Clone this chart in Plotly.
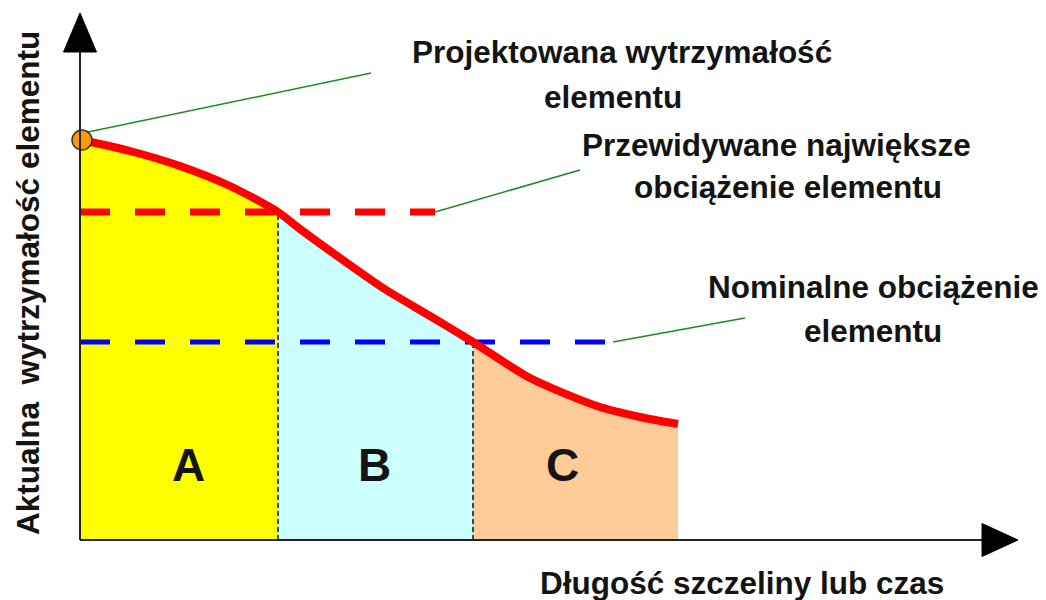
import plotly.graph_objects as go

# Element strength decreasing with crack length / time
t = [2, 50, 100, 150, 198, 220, 260, 303, 350, 393, 450, 517, 560, 598]
strength = [400, 389, 374, 354, 328, 311, 282, 252, 224, 198, 162, 134, 123, 116]

design_strength = 400
max_load = 328
nominal_load = 198
zone_edges = [198, 393]  # where the curve crosses the two load levels
zone_labels = ["A", "B", "C"]
zone_colors = ["#FFFF00", "#CCFFFF", "#FFCC99"]

x_axis_end = 938
y_axis_end = 527

FONT = "Liberation Sans, Arial, sans-serif"
TXT = "#141414"

fig = go.Figure()

# shaded zones under the curve
bounds = [t[0]] + zone_edges + [t[-1]]
for i in range(3):
    lo, hi = bounds[i], bounds[i + 1]
    xs = [x for x in t if lo <= x <= hi]
    ys = [strength[t.index(x)] for x in xs]
    if i == 0:
        xs = [0] + xs
        ys = [ys[0]] + ys
    fig.add_trace(go.Scatter(
        x=[xs[0]] + xs + [xs[-1]], y=[0] + ys + [0],
        mode="lines", fill="toself", fillcolor=zone_colors[i],
        line=dict(width=0), hoverinfo="skip", showlegend=False))

# vertical zone separators
for edge in zone_edges:
    fig.add_trace(go.Scatter(
        x=[edge, edge], y=[0, strength[t.index(edge)]], mode="lines",
        line=dict(color="#111111", width=1.5, dash="5px,3px"),
        hoverinfo="skip", showlegend=False))

# load levels
fig.add_trace(go.Scatter(
    x=[0, 355], y=[max_load, max_load], mode="lines",
    line=dict(color="#FF0000", width=7, dash="30px,25px"),
    hoverinfo="skip", showlegend=False))
fig.add_trace(go.Scatter(
    x=[0, 533], y=[nominal_load, nominal_load], mode="lines",
    line=dict(color="#0000FF", width=5, dash="30px,25px"),
    hoverinfo="skip", showlegend=False))

# strength curve
fig.add_trace(go.Scatter(
    x=t, y=strength, mode="lines",
    line=dict(color="#FF0000", width=8, shape="spline", smoothing=0.7),
    hoverinfo="skip", showlegend=False))

# leader lines to the callouts
leaders = [
    ([8, 291], [408, 467]),
    ([355, 500], [max_load, 370]),
    ([533, 665], [nominal_load, 222]),
]
for lx, ly in leaders:
    fig.add_trace(go.Scatter(
        x=lx, y=ly, mode="lines", line=dict(color="#1E8C1E", width=1.5),
        hoverinfo="skip", showlegend=False))

# design strength marker
fig.add_trace(go.Scatter(
    x=[t[0]], y=[design_strength], mode="markers",
    marker=dict(size=20, color="#FF9900", line=dict(color="#333333", width=1.5)),
    hoverinfo="skip", showlegend=False))

# axes with arrow heads
fig.add_shape(type="line", x0=0, y0=0, x1=0, y1=y_axis_end - 38,
              line=dict(color="#222222", width=2))
fig.add_shape(type="line", x0=0, y0=0, x1=x_axis_end - 36, y1=0,
              line=dict(color="#222222", width=2))
fig.add_shape(type="path",
              path=f"M -16.5,{y_axis_end - 39} L 16.5,{y_axis_end - 39} L 0,{y_axis_end} Z",
              fillcolor="black", line=dict(color="black", width=1))
fig.add_shape(type="path",
              path=f"M {x_axis_end - 36},16.5 L {x_axis_end - 36},-16.5 L {x_axis_end},0 Z",
              fillcolor="black", line=dict(color="black", width=1))

def label(text, x, y, size=31.5, **kw):
    fig.add_annotation(x=x, y=y, text=f"<b>{text}</b>", showarrow=False,
                       xanchor="center", yanchor="middle",
                       font=dict(family=FONT, size=size, color=TXT), **kw)

label("Projektowana wytrzymałość", 542, 488)
label("elementu", 533, 443)
label("Przewidywane największe", 696, 395)
label("obciążenie elementu", 708, 353)
label("Nominalne obciążenie", 793, 253)
label("elementu", 793, 209)

for name, cx in zip(zone_labels, [108, 294, 482]):
    label(name, cx, 75, size=46)

label("Długość szczeliny lub czas", 662, -43)
label("Aktualna  wytrzymałość elementu", -52, 257, textangle=-90)

fig.update_layout(
    width=1046, height=600, autosize=False,
    margin=dict(l=0, r=0, t=0, b=0),
    paper_bgcolor="white", plot_bgcolor="white",
    xaxis=dict(range=[-80, 966], visible=False, fixedrange=True),
    yaxis=dict(range=[-60, 540], visible=False, fixedrange=True),
    showlegend=False,
)

fig.write_html("out.html")
